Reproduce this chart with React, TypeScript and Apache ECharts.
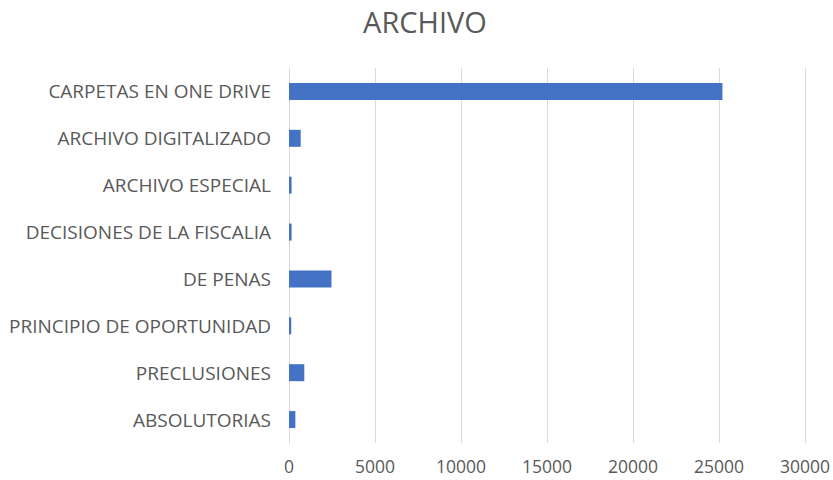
import React, { useEffect, useRef } from "react";
import * as echarts from "echarts";

const categories = [
  "ABSOLUTORIAS",
  "PRECLUSIONES",
  "PRINCIPIO DE OPORTUNIDAD",
  "DE PENAS",
  "DECISIONES DE LA FISCALIA",
  "ARCHIVO ESPECIAL",
  "ARCHIVO DIGITALIZADO",
  "CARPETAS EN ONE DRIVE",
];
const values = [370, 890, 130, 2470, 150, 150, 680, 25200];
const title = "ARCHIVO";

export default function App() {
  const ref = useRef<HTMLDivElement>(null);
  useEffect(() => {
    const chart = echarts.init(ref.current!, undefined, { renderer: "svg" });
    chart.setOption({
      animation: false,
      backgroundColor: "#ffffff",
      graphic: [
        {
          type: "text",
          x: 425,
          y: 21,
          style: {
            text: title,
            fontFamily: "Open Sans",
            fontSize: 29,
            fill: "#595959",
            align: "center",
            verticalAlign: "middle",
          },
        },
      ],
      grid: { left: 289, right: 27, top: 68, bottom: 37, containLabel: false },
      xAxis: {
        type: "value",
        min: 0,
        max: 30000,
        interval: 5000,
        axisLine: { show: false },
        axisTick: { show: false },
        splitLine: { show: true, lineStyle: { color: "#d9d9d9", width: 1 } },
        axisLabel: {
          fontFamily: "Open Sans",
          fontSize: 17.5,
          color: "#595959",
          margin: 14,
          formatter: (v: number) => String(v),
        },
      },
      yAxis: {
        type: "category",
        data: categories,
        axisLine: { show: true, lineStyle: { color: "#d9d9d9", width: 1 } },
        axisTick: { show: false },
        axisLabel: { fontFamily: "Open Sans", fontSize: 19, color: "#595959", margin: 18 },
      },
      series: [
        {
          type: "bar",
          data: values,
          barWidth: 17,
          itemStyle: { color: "#4472C4" },
        },
      ],
    });
    return () => chart.dispose();
  }, []);
  return <div ref={ref} style={{ position: "absolute", left: 0, top: 0, width: 833, height: 480 }} />;
}
